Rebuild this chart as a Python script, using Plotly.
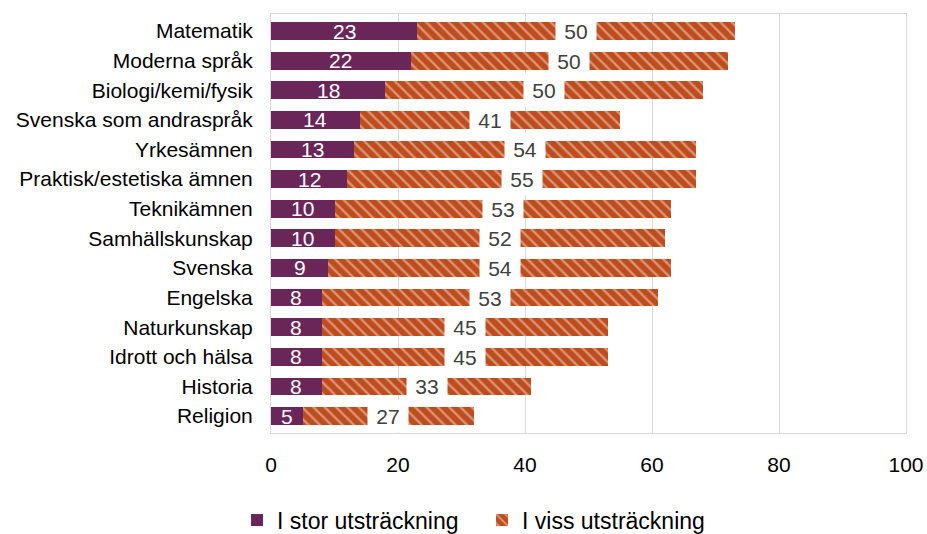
import plotly.graph_objects as go

categories = ["Matematik", "Moderna språk", "Biologi/kemi/fysik", "Svenska som andraspråk",
              "Yrkesämnen", "Praktisk/estetiska ämnen", "Teknikämnen", "Samhällskunskap",
              "Svenska", "Engelska", "Naturkunskap", "Idrott och hälsa", "Historia", "Religion"]
stor = [23, 22, 18, 14, 13, 12, 10, 10, 9, 8, 8, 8, 8, 5]
viss = [50, 50, 50, 41, 54, 55, 53, 52, 54, 53, 45, 45, 33, 27]
x_ticks = [0, 20, 40, 60, 80, 100]

PURPLE = "#6A2659"
ORANGE = "#BE4C1D"
FONT = "Liberation Sans, Arial, sans-serif"

fig = go.Figure()
fig.add_trace(go.Bar(
    y=categories, x=stor, orientation="h", name="I stor utsträckning",
    marker=dict(color=PURPLE, line=dict(width=0)),
    hoverinfo="x+y",
))
fig.add_trace(go.Bar(
    y=categories, x=viss, orientation="h", name="I viss utsträckning",
    marker=dict(color=ORANGE, line=dict(width=0),
                pattern=dict(shape="\\", fgcolor="#F6DCCF", bgcolor=ORANGE,
                             size=8, solidity=0.3, fillmode="overlay")),
    hoverinfo="x+y",
))

annotations = []
for c, s, v in zip(categories, stor, viss):
    annotations.append(dict(
        x=s / 2, y=c, xref="x", yref="y", text=str(s), showarrow=False,
        font=dict(family=FONT, size=21, color="#FFFFFF"),
    ))
    annotations.append(dict(
        x=s + v / 2, y=c, xref="x", yref="y", text=str(v), showarrow=False,
        font=dict(family=FONT, size=21, color="#404040"),
        bgcolor="#FFFFFF", width=38, height=30,
    ))

fig.update_layout(
    barmode="stack",
    bargap=0.4,
    width=927, height=534,
    margin=dict(l=271, r=21, t=14, b=101, autoexpand=False),
    paper_bgcolor="#FFFFFF", plot_bgcolor="#FFFFFF",
    font=dict(family=FONT, size=21, color="#000000"),
    showlegend=True,
    legend=dict(orientation="h", xref="container", yref="container",
                x=0.52, xanchor="center", y=0.026, yanchor="middle",
                font=dict(family=FONT, size=23, color="#000000"),
                traceorder="normal", itemwidth=30, entrywidth=200,
                bgcolor="rgba(0,0,0,0)"),
    annotations=annotations,
)
fig.update_xaxes(
    range=[0, 100], tickvals=x_ticks, ticktext=[str(t) for t in x_ticks],
    showgrid=True, gridcolor="#D9D9D9", gridwidth=1,
    showline=True, linecolor="#D9D9D9", linewidth=1, mirror=True,
    zeroline=False, ticks="", ticklabelstandoff=13, automargin=False,
    ticklabeloverflow="allow",
    tickfont=dict(family=FONT, size=21, color="#000000"),
)
fig.update_yaxes(
    categoryorder="array", categoryarray=categories, autorange="reversed",
    showgrid=False, showline=True, linecolor="#D9D9D9", linewidth=1, mirror=True,
    ticks="", ticklabelstandoff=13, automargin=False,
    tickfont=dict(family=FONT, size=21, color="#000000"),
)

# remove the default 8px page margin so the figure fills the window exactly
fig.write_html("out.html", config={"displayModeBar": False},
               post_script="document.body.style.margin='0';")
